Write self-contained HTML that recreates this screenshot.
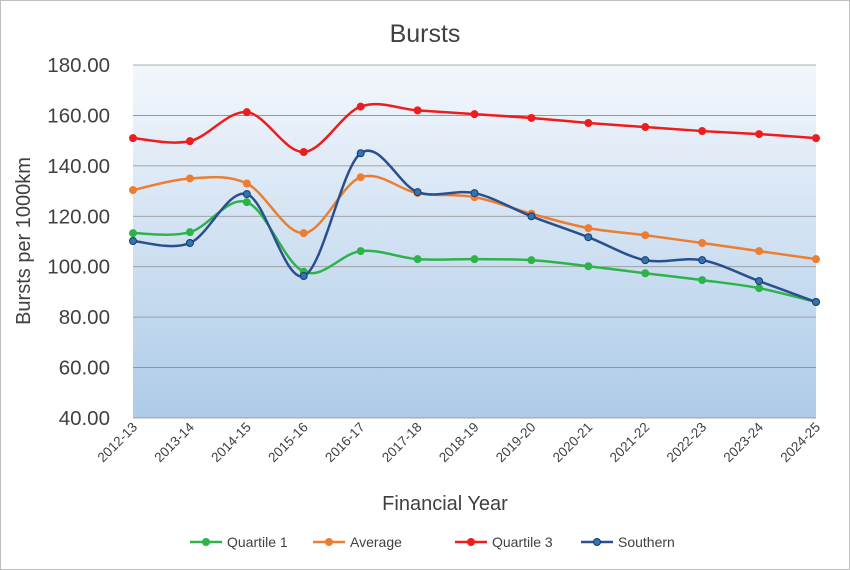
<!DOCTYPE html>
<html><head><meta charset="utf-8"><style>
body{margin:0;background:#fff}
svg{font-family:"Liberation Sans",Arial,sans-serif;display:block}
</style></head><body>
<svg id="chart" width="850" height="570" viewBox="0 0 850 570">
<defs><linearGradient id="bg" x1="0" y1="0" x2="0" y2="1"><stop offset="0" stop-color="#f3f7fc"/><stop offset="1" stop-color="#adcbe8"/></linearGradient></defs>
<rect x="0.5" y="0.5" width="849" height="569" fill="#fff" stroke="#bfbfbf"/>
<text x="425" y="42" text-anchor="middle" font-size="25" fill="#404040">Bursts</text>
<rect x="133" y="65" width="683" height="353" fill="url(#bg)"/>
<g id="grid"></g><g id="yt"></g><g id="xt"></g><g id="series"></g>
<text x="445" y="510" text-anchor="middle" font-size="20" fill="#404040">Financial Year</text>
<text transform="translate(30,241) rotate(-90)" text-anchor="middle" font-size="20" fill="#404040">Bursts per 1000km</text>
<g id="legend"></g>
</svg>
<script>
const categories=["2012-13","2013-14","2014-15","2015-16","2016-17","2017-18","2018-19","2019-20","2020-21","2021-22","2022-23","2023-24","2024-25"];
const yTicks=[40,60,80,100,120,140,160,180];
const q1=[113.3,113.7,125.6,98.0,106.2,103.0,103.0,102.6,100.2,97.4,94.7,91.5,86.0];
const avg=[130.4,135.0,133.0,113.3,135.5,129.2,127.6,121.0,115.3,112.5,109.4,106.2,103.0];
const q3=[151.0,149.8,161.3,145.5,163.5,162.0,160.5,159.0,157.0,155.4,153.8,152.6,151.0];
const southern=[110.2,109.4,128.8,96.3,145.0,129.6,129.2,120.0,111.7,102.6,102.6,94.3,86.0];
const NS="http://www.w3.org/2000/svg";
const X0=133,X1=816,Y0=418,Y1=65,YMIN=40,YMAX=180;
const xs=i=>X0+i*(X1-X0)/(categories.length-1);
const ys=v=>Y0-(v-YMIN)/(YMAX-YMIN)*(Y0-Y1);
function mk(t,a,p){const e=document.createElementNS(NS,t);for(const k in a)e.setAttribute(k,a[k]);p.appendChild(e);return e;}
const grid=document.getElementById('grid'),yt=document.getElementById('yt'),xt=document.getElementById('xt');
yTicks.forEach(v=>{
 const l=mk('line',{x1:X0,x2:X1,y1:ys(v),y2:ys(v),stroke:'#8c8c8c','stroke-width':0.8},grid);
 
 
 const t=mk('text',{x:X0-23,y:ys(v)+7,'text-anchor':'end','font-size':20.5,fill:'#404040'},yt);
 t.textContent=v.toFixed(2);
 
 
});
categories.forEach((c,i)=>{
 const t=mk('text',{transform:`translate(${xs(i)+5},${Y0+10}) rotate(-45)`,'text-anchor':'end','font-size':13.5,fill:'#404040'},xt);
 t.textContent=c;
 
 
});
function smooth(pts){let d=`M${pts[0][0]},${pts[0][1]}`;for(let i=0;i<pts.length-1;i++){const p0=pts[i-1]||pts[i],p1=pts[i],p2=pts[i+1],p3=pts[i+2]||p2;const t=6;d+=` C${p1[0]+(p2[0]-p0[0])/t},${p1[1]+(p2[1]-p0[1])/t} ${p2[0]-(p3[0]-p1[0])/t},${p2[1]-(p3[1]-p1[1])/t} ${p2[0]},${p2[1]}`;}return d;}
const S=[["quartile-1",q1,"#2db34a","#2db34a","Quartile 1",190],["average",avg,"#ed7d31","#ed7d31","Average",313],["quartile-3",q3,"#ee1c1c","#ee1c1c","Quartile 3",455],["southern",southern,"#2a4f8f","#1f3864","Southern",581]];
const sg=document.getElementById('series'),lg=document.getElementById('legend');
S.forEach(([n,d,c,oc,lab,lx])=>{
 const g=mk('g',{},sg);
 
 
 const pts=d.map((v,i)=>[xs(i),ys(v)]);
 const p=mk('path',{d:smooth(pts),fill:'none',stroke:c,'stroke-width':2.5},g);
 
 
 pts.forEach(q=>{const m=mk('circle',{cx:q[0],cy:q[1],r:3.5,fill:n==='southern'?'#2e75b6':c,stroke:oc,'stroke-width':1},g);
 
 });
 const e=mk('g',{},lg);
 
 
 mk('line',{x1:lx,x2:lx+32,y1:542,y2:542,stroke:c,'stroke-width':2.5},e);
 mk('circle',{cx:lx+16,cy:542,r:3.5,fill:n==='southern'?'#2e75b6':c,stroke:oc},e);
 const t=mk('text',{x:lx+37,y:547,'font-size':14,fill:'#404040'},e);t.textContent=lab;
});
</script>
</body></html>
